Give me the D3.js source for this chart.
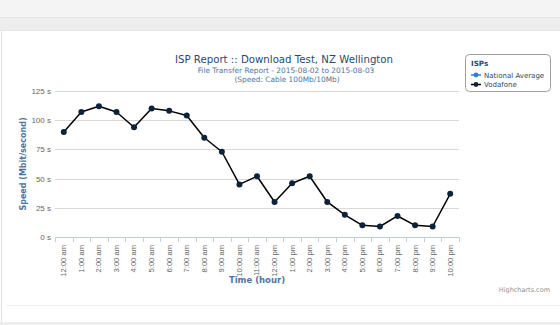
<!DOCTYPE html>
<html><head><meta charset="utf-8">
<script src="https://cdn.jsdelivr.net/npm/d3@7/dist/d3.min.js"></script>
<style>
html,body{margin:0;padding:0;background:#fff;}
svg{display:block;font-family:"DejaVu Sans",Verdana,sans-serif;}
</style></head>
<body><svg id="c" width="560" height="325"></svg>
<script>
const categories = ["12:00 am","1:00 am","2:00 am","3:00 am","4:00 am","5:00 am","6:00 am","7:00 am","8:00 am","9:00 am","10:00 am","11:00 am","12:00 pm","1:00 pm","2:00 pm","3:00 pm","4:00 pm","5:00 pm","6:00 pm","7:00 pm","8:00 pm","9:00 pm","10:00 pm"];
const vodafone = [90,107,112,107,94,110,108,104,85,73,45,52,30,46,52,30,19,10,9,18,10,9,37];
const nationalAverage = [];
const yTicks = [0,25,50,75,100,125];
const seriesNames = ["National Average","Vodafone"];
const seriesColors = ["#2f7ed8","#0d233a"];

const svg = d3.select("#c");
// page chrome
svg.append("rect").attr("x",0).attr("y",0).attr("width",560).attr("height",17).attr("fill","#f4f4f4");
svg.append("line").attr("x1",0).attr("x2",560).attr("y1",17.5).attr("y2",17.5).attr("stroke","#e3e3e3");
svg.append("rect").attr("x",0).attr("y",18).attr("width",560).attr("height",13).attr("fill","#ededed");
svg.append("line").attr("x1",0).attr("x2",560).attr("y1",30.5).attr("y2",30.5).attr("stroke","#e6e6e6");
svg.append("line").attr("x1",1.5).attr("x2",1.5).attr("y1",31).attr("y2",325).attr("stroke","#e2e2e2");
svg.append("line").attr("x1",6).attr("x2",560).attr("y1",305.5).attr("y2",305.5).attr("stroke","#f2f2f2");
svg.append("rect").attr("x",0).attr("y",322).attr("width",560).attr("height",3).attr("fill","#eeeeee");

const x = d3.scaleBand().domain(categories).range([55,459]).paddingInner(0).paddingOuter(0);
const y = d3.scaleLinear().domain([0,125]).range([237,91]);

// grid
svg.append("g").selectAll("line").data(yTicks.filter(d=>d>0)).join("line")
  .attr("x1",55).attr("x2",459)
  .attr("y1",d=>Math.round(y(d))+0.5).attr("y2",d=>Math.round(y(d))+0.5)
  .attr("stroke","#d8d8d8").attr("stroke-width",1);

// y labels
const yAxis = d3.axisLeft(y).tickValues(yTicks).tickSize(0).tickPadding(4).tickFormat(d=>d+" s");
const gy = svg.append("g").attr("transform","translate(51,0)").call(yAxis);
gy.select(".domain").remove();
gy.selectAll("text").attr("fill","#666").style("font-size","8px").attr("x",0).attr("dy","0.32em");

// x axis
const xAxis = d3.axisBottom(x).tickSize(0).tickSizeOuter(0);
const gx = svg.append("g").attr("transform","translate(0,237)").call(xAxis);
gx.select(".domain").attr("stroke","#c0d0e0").attr("d","M55,0.5H459");
gx.selectAll(".tick text")
  .attr("transform","rotate(-90)")
  .attr("text-anchor","end").attr("x",-8).attr("y",0).attr("dy","0.32em")
  .attr("fill","#666").style("font-size","7.6px");
// boundary ticks
const bounds = categories.map(c=>x(c)).concat([x.range()[1]]);
svg.append("g").selectAll("line").data(bounds).join("line")
  .attr("x1",d=>Math.round(d)+0.5).attr("x2",d=>Math.round(d)+0.5)
  .attr("y1",237).attr("y2",242).attr("stroke","#c0d0e0");

// line + markers
const cx = d=>x(d)+x.bandwidth()/2;
const line = d3.line().x((d,i)=>cx(categories[i])).y(d=>y(d));
svg.append("path").datum(vodafone).attr("d",line).attr("fill","none")
  .attr("stroke","#000").attr("stroke-width",1.5).attr("stroke-linejoin","round");
svg.append("g").selectAll("circle").data(vodafone).join("circle")
  .attr("cx",(d,i)=>cx(categories[i])).attr("cy",d=>y(d)).attr("r",3)
  .attr("fill",seriesColors[1]);

// titles
svg.append("text").attr("x",284).attr("y",63).attr("text-anchor","middle")
  .attr("fill","#274b6d").style("font-size","10.2px").text("ISP Report :: Download Test, NZ Wellington");
svg.append("text").attr("x",286).attr("y",72.5).attr("text-anchor","middle")
  .attr("fill","#4d759e").style("font-size","7.4px").text("File Transfer Report - 2015-08-02 to 2015-08-03");
svg.append("text").attr("x",287).attr("y",81.5).attr("text-anchor","middle")
  .attr("fill","#4d759e").style("font-size","7.4px").text("(Speed: Cable 100Mb/10Mb)");

// axis titles
svg.append("text").attr("transform","translate(26,164) rotate(-90)").attr("text-anchor","middle")
  .attr("fill","#4d759e").style("font-size","8px").style("font-weight","bold").text("Speed (Mbit/second)");
svg.append("text").attr("x",257).attr("y",283).attr("text-anchor","middle")
  .attr("fill","#4d759e").style("font-size","8.5px").style("font-weight","bold").text("Time (hour)");

// credit
svg.append("text").attr("x",550).attr("y",292).attr("text-anchor","end")
  .attr("fill","#909090").style("font-size","6.5px").text("Highcharts.com");

// legend
const lg = svg.append("g").attr("transform","translate(465,54)");
lg.append("rect").attr("x",0.5).attr("y",0.5).attr("width",85).attr("height",37).attr("rx",4)
  .attr("fill","#fff").attr("stroke","#a0a0a0");
lg.append("text").attr("x",6).attr("y",12).attr("fill","#274b6d").style("font-size","7.2px").style("font-weight","bold").text("ISPs");
seriesNames.forEach((n,i)=>{
  const yy = 21 + i*9.5;
  lg.append("line").attr("x1",6).attr("x2",16).attr("y1",yy).attr("y2",yy).attr("stroke",i===0?seriesColors[0]:"#000").attr("stroke-width",1.5);
  lg.append("circle").attr("cx",11).attr("cy",yy).attr("r",2.4).attr("fill",seriesColors[i]);
  lg.append("text").attr("x",19).attr("y",yy+2.6).attr("fill","#274b6d").style("font-size","7px").text(n);
});
</script></body></html>
